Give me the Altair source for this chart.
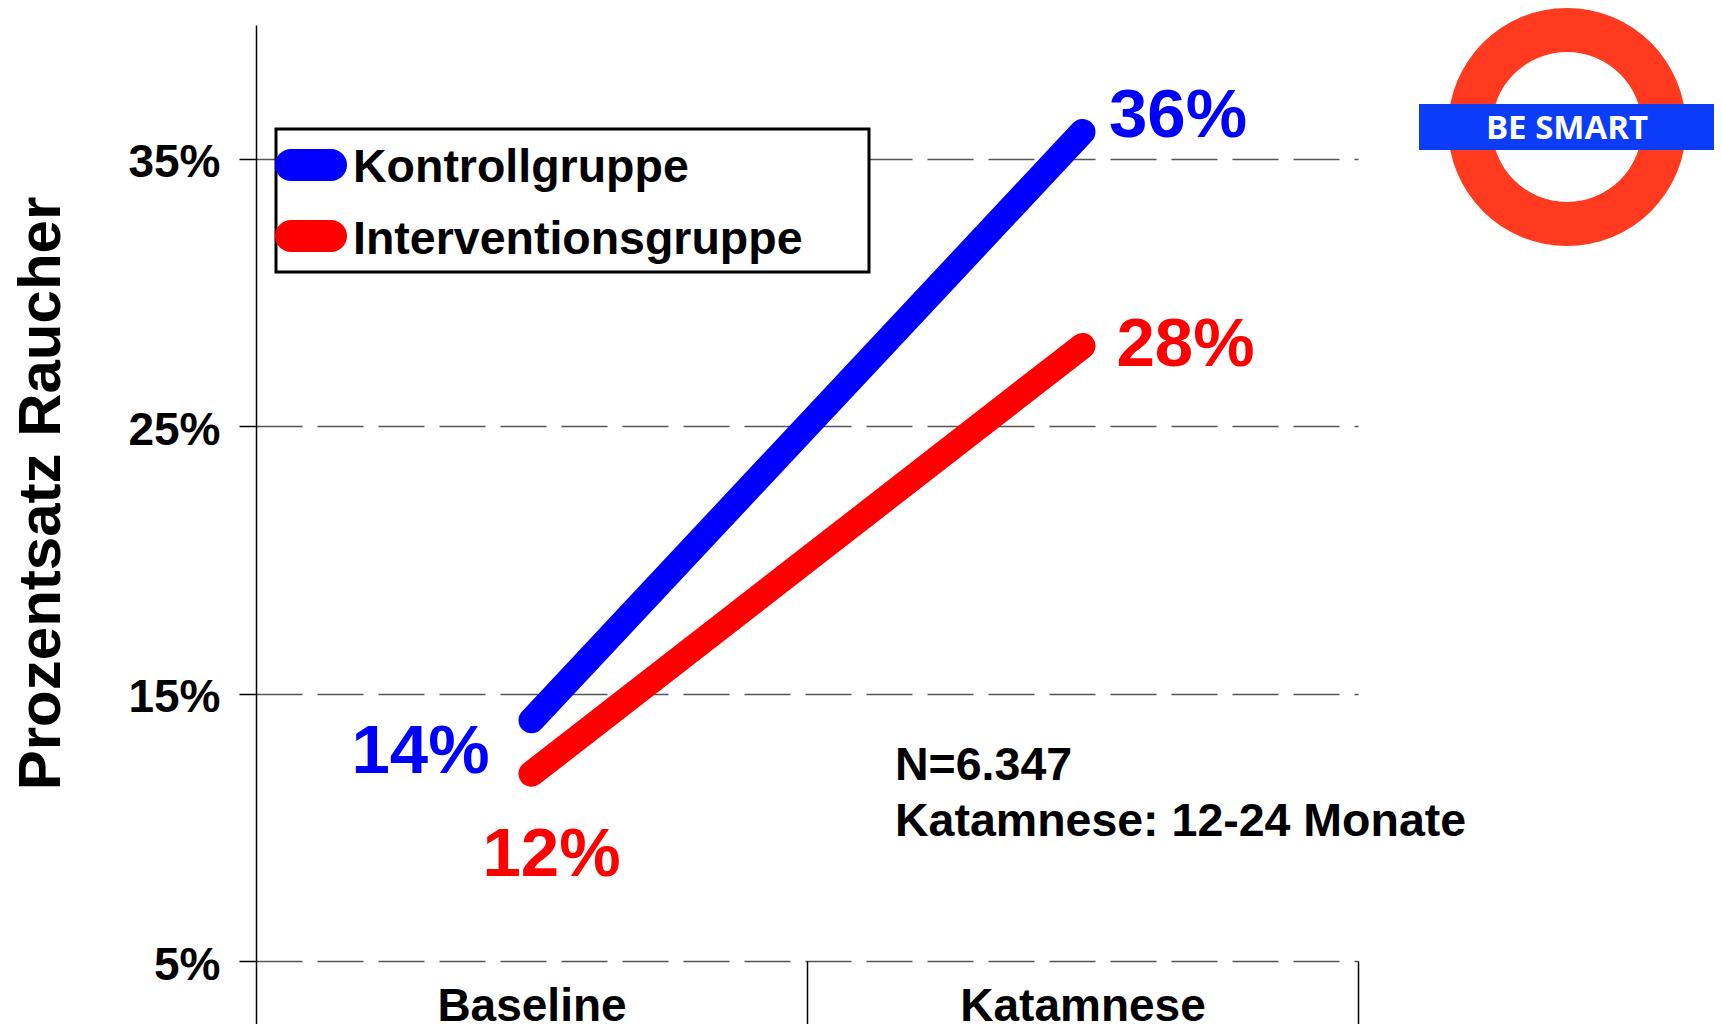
import altair as alt
import pandas as pd

# ---------------- data ----------------
timepoints = ["Baseline", "Katamnese"]
groups = ["Kontrollgruppe", "Interventionsgruppe"]
kontroll = [14, 36]
intervention = [12, 28]
group_colors = ["#0000ff", "#ff0000"]
y_ticks = [5, 15, 25, 35]
y_domain = [5, 40]
note_lines = ["N=6.347", "Katamnese: 12-24 Monate"]
logo_text = "BE SMART"

rows = []
for g, vals in zip(groups, [kontroll, intervention]):
    for t, v in zip(timepoints, vals):
        rows.append({"Gruppe": g, "Zeitpunkt": t, "Wert": v, "Label": f"{v}%"})
df = pd.DataFrame(rows)

# ---------------- layout / style ----------------
W, H = 1102, 936
FONT = "Liberation Sans, Arial, sans-serif"
color_scale = alt.Scale(domain=groups, range=group_colors)

x_enc = alt.X(
    "Zeitpunkt:N",
    sort=timepoints,
    bandPosition=0.5,
    scale=alt.Scale(type="band", domain=timepoints, paddingInner=0, paddingOuter=0),
    axis=alt.Axis(
        title=None, tickBand="extent", ticks=True, tickSize=71, tickColor="black",
        tickWidth=1.5, domain=False, grid=False, labelFont=FONT, labelFontSize=46,
        labelFontWeight="bold", labelColor="black", labelPadding=-12,
        labelBaseline="alphabetic", labelAngle=0, labelLimit=1000,
    ),
)
y_enc = alt.Y(
    "Wert:Q",
    scale=alt.Scale(domain=y_domain, nice=False, zero=False),
    axis=alt.Axis(
        values=y_ticks, labelExpr="datum.value + '%'", grid=True, gridDash=[46, 15],
        gridColor="#555555", gridWidth=1.5, domainColor="black", domainWidth=1.5,
        tickColor="black", tickSize=17, tickWidth=1.5, labelFont=FONT, labelFontSize=46,
        labelFontWeight="bold", labelColor="black", labelPadding=19, labelLimit=1000,
        labelOffset=4,
        title="Prozentsatz Raucher", titleFont=FONT, titleFontSize=60,
        titleFontWeight="bold", titleColor="black", titleX=-197, titleY=468,
        titleAngle=270, titleBaseline="alphabetic", titleAlign="center",
        titleLimit=2000,
    ),
)

base = alt.Chart(df)

lines = base.mark_line(strokeWidth=26, strokeCap="round").encode(
    x=x_enc, y=y_enc,
    color=alt.Color("Gruppe:N", scale=color_scale, legend=None),
    detail="Gruppe:N",
)

# value labels: offsets (styling) per group/timepoint
label_style = {
    ("Kontrollgruppe", "Baseline"): dict(align="right", dx=-42, dy=53),
    ("Kontrollgruppe", "Katamnese"): dict(align="left", dx=26.5, dy=5),
    ("Interventionsgruppe", "Baseline"): dict(align="left", dx=-49, dy=102),
    ("Interventionsgruppe", "Katamnese"): dict(align="left", dx=34, dy=20),
}
label_layers = []
for (g, t), st in label_style.items():
    label_layers.append(
        base.transform_filter(
            (alt.datum.Gruppe == g) & (alt.datum.Zeitpunkt == t)
        ).mark_text(
            font=FONT, fontSize=69, fontWeight="bold", baseline="alphabetic", **st
        ).encode(
            x=x_enc, y=y_enc, text="Label:N",
            color=alt.Color("Gruppe:N", scale=color_scale, legend=None),
        )
    )

one = pd.DataFrame({"k": [0]})

# manual legend box
legend_box = alt.Chart(one).mark_rect(
    fill="white", stroke="black", strokeWidth=3
).encode(x=alt.value(20), x2=alt.value(613), y=alt.value(104), y2=alt.value(247))

legend_layers = [legend_box]
legend_sym_y = [140, 211]
legend_txt_y = [157, 229]
for g, c, sy, ty in zip(groups, group_colors, legend_sym_y, legend_txt_y):
    gdf = pd.DataFrame({"Gruppe": [g]})
    legend_layers.append(
        alt.Chart(gdf).mark_rule(strokeWidth=32, strokeCap="round", color=c).encode(
            x=alt.value(35), x2=alt.value(75), y=alt.value(sy)
        )
    )
    legend_layers.append(
        alt.Chart(gdf).mark_text(
            font=FONT, fontSize=46.5, fontWeight="bold", align="left",
            baseline="alphabetic", color="black",
        ).encode(x=alt.value(97), y=alt.value(ty), text="Gruppe:N")
    )

# notes
note_layers = []
for line, yy in zip(note_lines, [755, 811]):
    note_layers.append(
        alt.Chart(pd.DataFrame({"t": [line]})).mark_text(
            font=FONT, fontSize=46.5, fontWeight="bold", align="left",
            baseline="alphabetic", color="black",
        ).encode(x=alt.value(639), y=alt.value(yy), text="t:N")
    )

# logo
ring = alt.Chart(one).mark_arc(
    radius=119, radius2=75, theta=0, theta2=6.2832, color="#ff3a1e"
).encode(x=alt.value(1311), y=alt.value(102))
bar = alt.Chart(one).mark_rect(color="#0a3cfa").encode(
    x=alt.value(1163), x2=alt.value(1459), y=alt.value(79), y2=alt.value(125)
)
logo_txt = alt.Chart(pd.DataFrame({"t": [logo_text]})).mark_text(
    font="Open Sans, Lato, sans-serif", fontSize=33, fontWeight="bold",
    align="center", baseline="alphabetic", color="white",
).encode(x=alt.value(1311), y=alt.value(114), text="t:N")

chart = alt.layer(
    lines, *label_layers, *legend_layers, *note_layers, ring, bar, logo_txt
).properties(
    width=W, height=H,
    padding={"left": 248, "top": 17, "right": 356, "bottom": 63},
    autosize=alt.AutoSizeParams(type="none"),
    background="white",
).configure_view(stroke=None)

chart.save("out.html", embed_options={"renderer": "svg", "actions": False})
